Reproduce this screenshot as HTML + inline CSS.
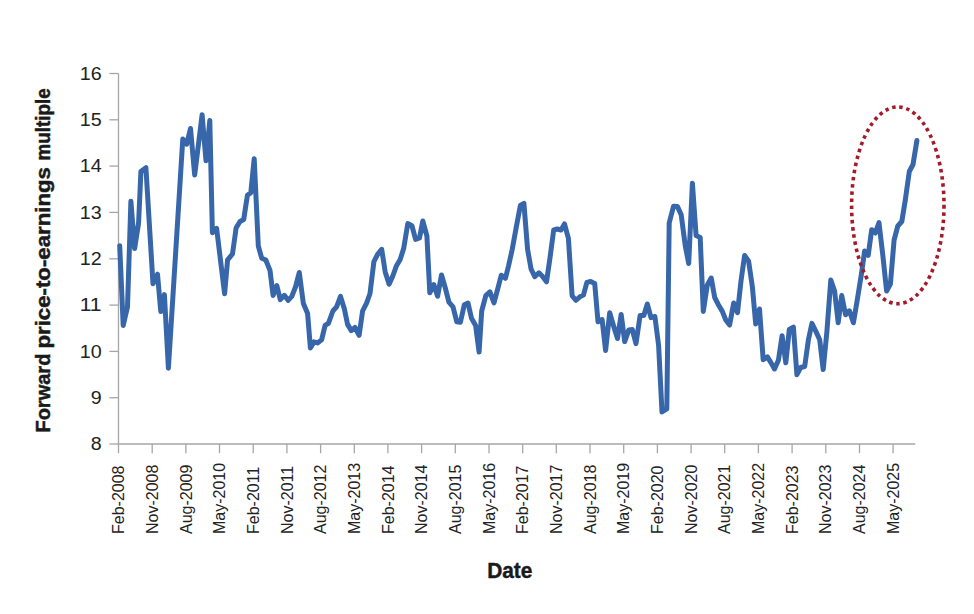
<!DOCTYPE html>
<html lang="en">
<head>
<meta charset="utf-8">
<title>Forward price-to-earnings multiple</title>
<style>
html,body{margin:0;padding:0;background:#fff;}
body{width:974px;height:614px;overflow:hidden;}
svg{display:block;}
text{font-family:"Liberation Sans",sans-serif;}
.tick{font-size:18px;fill:#222;}
.xl{font-size:16px;fill:#222;}
.ttl{font-weight:bold;fill:#1a1a1a;}
</style>
</head>
<body>
<svg width="974" height="614" viewBox="0 0 974 614">
<rect width="974" height="614" fill="#fff"/>

<g stroke="#a6a6a6" stroke-width="1.3" fill="none">
<line x1="118.5" y1="73.5" x2="118.5" y2="444.0"/>
<line x1="117.9" y1="444.0" x2="915.2" y2="444.0"/>
<line x1="109.4" y1="444.0" x2="118.5" y2="444.0"/>
<line x1="109.4" y1="397.7" x2="118.5" y2="397.7"/>
<line x1="109.4" y1="351.4" x2="118.5" y2="351.4"/>
<line x1="109.4" y1="305.1" x2="118.5" y2="305.1"/>
<line x1="109.4" y1="258.8" x2="118.5" y2="258.8"/>
<line x1="109.4" y1="212.4" x2="118.5" y2="212.4"/>
<line x1="109.4" y1="166.1" x2="118.5" y2="166.1"/>
<line x1="109.4" y1="119.8" x2="118.5" y2="119.8"/>
<line x1="109.4" y1="73.5" x2="118.5" y2="73.5"/>
<line x1="118.5" y1="444.0" x2="118.5" y2="453.2"/>
<line x1="152.2" y1="444.0" x2="152.2" y2="453.2"/>
<line x1="185.9" y1="444.0" x2="185.9" y2="453.2"/>
<line x1="219.5" y1="444.0" x2="219.5" y2="453.2"/>
<line x1="253.2" y1="444.0" x2="253.2" y2="453.2"/>
<line x1="286.9" y1="444.0" x2="286.9" y2="453.2"/>
<line x1="320.6" y1="444.0" x2="320.6" y2="453.2"/>
<line x1="354.3" y1="444.0" x2="354.3" y2="453.2"/>
<line x1="387.9" y1="444.0" x2="387.9" y2="453.2"/>
<line x1="421.6" y1="444.0" x2="421.6" y2="453.2"/>
<line x1="455.3" y1="444.0" x2="455.3" y2="453.2"/>
<line x1="489.0" y1="444.0" x2="489.0" y2="453.2"/>
<line x1="522.7" y1="444.0" x2="522.7" y2="453.2"/>
<line x1="556.3" y1="444.0" x2="556.3" y2="453.2"/>
<line x1="590.0" y1="444.0" x2="590.0" y2="453.2"/>
<line x1="623.7" y1="444.0" x2="623.7" y2="453.2"/>
<line x1="657.4" y1="444.0" x2="657.4" y2="453.2"/>
<line x1="691.1" y1="444.0" x2="691.1" y2="453.2"/>
<line x1="724.7" y1="444.0" x2="724.7" y2="453.2"/>
<line x1="758.4" y1="444.0" x2="758.4" y2="453.2"/>
<line x1="792.1" y1="444.0" x2="792.1" y2="453.2"/>
<line x1="825.8" y1="444.0" x2="825.8" y2="453.2"/>
<line x1="859.5" y1="444.0" x2="859.5" y2="453.2"/>
<line x1="893.1" y1="444.0" x2="893.1" y2="453.2"/>
</g>
<text class="tick" x="101.6" y="450.3" text-anchor="end" textLength="10.9" lengthAdjust="spacingAndGlyphs">8</text>
<text class="tick" x="101.6" y="404.0" text-anchor="end" textLength="10.9" lengthAdjust="spacingAndGlyphs">9</text>
<text class="tick" x="101.6" y="357.7" text-anchor="end" textLength="21.9" lengthAdjust="spacingAndGlyphs">10</text>
<text class="tick" x="101.6" y="311.4" text-anchor="end" textLength="21.9" lengthAdjust="spacingAndGlyphs">11</text>
<text class="tick" x="101.6" y="265.1" text-anchor="end" textLength="21.9" lengthAdjust="spacingAndGlyphs">12</text>
<text class="tick" x="101.6" y="218.8" text-anchor="end" textLength="21.9" lengthAdjust="spacingAndGlyphs">13</text>
<text class="tick" x="101.6" y="172.4" text-anchor="end" textLength="21.9" lengthAdjust="spacingAndGlyphs">14</text>
<text class="tick" x="101.6" y="126.1" text-anchor="end" textLength="21.9" lengthAdjust="spacingAndGlyphs">15</text>
<text class="tick" x="101.6" y="79.8" text-anchor="end" textLength="21.9" lengthAdjust="spacingAndGlyphs">16</text>
<text class="xl" transform="translate(124.1,534) rotate(-90)">Feb-2008</text>
<text class="xl" transform="translate(157.8,534) rotate(-90)">Nov-2008</text>
<text class="xl" transform="translate(191.5,534) rotate(-90)">Aug-2009</text>
<text class="xl" transform="translate(225.1,534) rotate(-90)">May-2010</text>
<text class="xl" transform="translate(258.8,534) rotate(-90)">Feb-2011</text>
<text class="xl" transform="translate(292.5,534) rotate(-90)">Nov-2011</text>
<text class="xl" transform="translate(326.2,534) rotate(-90)">Aug-2012</text>
<text class="xl" transform="translate(359.9,534) rotate(-90)">May-2013</text>
<text class="xl" transform="translate(393.5,534) rotate(-90)">Feb-2014</text>
<text class="xl" transform="translate(427.2,534) rotate(-90)">Nov-2014</text>
<text class="xl" transform="translate(460.9,534) rotate(-90)">Aug-2015</text>
<text class="xl" transform="translate(494.6,534) rotate(-90)">May-2016</text>
<text class="xl" transform="translate(528.3,534) rotate(-90)">Feb-2017</text>
<text class="xl" transform="translate(561.9,534) rotate(-90)">Nov-2017</text>
<text class="xl" transform="translate(595.6,534) rotate(-90)">Aug-2018</text>
<text class="xl" transform="translate(629.3,534) rotate(-90)">May-2019</text>
<text class="xl" transform="translate(663.0,534) rotate(-90)">Feb-2020</text>
<text class="xl" transform="translate(696.7,534) rotate(-90)">Nov-2020</text>
<text class="xl" transform="translate(730.3,534) rotate(-90)">Aug-2021</text>
<text class="xl" transform="translate(764.0,534) rotate(-90)">May-2022</text>
<text class="xl" transform="translate(797.7,534) rotate(-90)">Feb-2023</text>
<text class="xl" transform="translate(831.4,534) rotate(-90)">Nov-2023</text>
<text class="xl" transform="translate(865.1,534) rotate(-90)">Aug-2024</text>
<text class="xl" transform="translate(898.7,534) rotate(-90)">May-2025</text>
<g class="ttl" font-size="19.5" stroke="#1a1a1a" stroke-width="0.45" transform="translate(50,0) rotate(-90)"><text x="-432.6" y="0" textLength="79" lengthAdjust="spacingAndGlyphs">Forward</text><text x="-348.6" y="0" textLength="181.5" lengthAdjust="spacingAndGlyphs">price-to-earnings</text><text x="-160.5" y="0" textLength="72.3" lengthAdjust="spacingAndGlyphs">multiple</text></g>
<text class="ttl" font-size="22" stroke="#1a1a1a" stroke-width="0.45" x="487.2" y="578.2" textLength="45.2" lengthAdjust="spacingAndGlyphs">Date</text>
<polyline fill="none" stroke="#3767aa" stroke-width="5" stroke-linejoin="round" stroke-linecap="round" points="119.7,245.7 123.2,325.4 127.5,307.0 130.9,201.2 134.6,248.5 138.6,223.0 140.9,171.5 145.9,167.6 153.0,283.8 157.5,274.2 160.8,311.5 164.4,294.6 168.4,368.2 182.8,138.9 186.7,144.2 190.5,128.5 194.7,175.0 202.1,114.7 206.0,160.8 209.8,120.4 212.4,232.8 216.6,228.3 224.6,293.8 227.6,259.8 232.5,254.0 236.1,228.0 240.0,221.5 243.7,219.5 247.4,195.3 250.8,192.8 254.2,158.7 258.3,246.0 261.7,258.2 265.8,260.0 270.0,270.4 273.1,295.5 276.8,285.5 280.3,299.6 284.4,295.3 288.1,300.4 291.8,296.4 295.5,287.0 299.3,272.5 303.3,303.3 307.6,313.5 310.4,348.0 314.0,341.9 317.5,342.9 321.6,339.8 325.1,325.4 328.4,323.3 332.9,311.0 336.6,306.9 340.5,296.4 344.4,308.9 347.6,324.4 351.3,330.6 355.0,327.5 359.1,335.3 362.6,311.0 366.7,302.8 370.0,293.5 373.9,261.6 377.6,254.4 381.7,249.3 385.2,271.9 389.1,284.3 392.8,276.0 396.5,265.7 400.2,259.5 403.7,248.3 407.8,223.6 411.9,225.7 415.6,239.4 419.5,238.0 422.8,221.0 426.9,236.0 429.8,292.8 433.9,284.7 437.6,296.3 441.5,275.0 445.4,288.3 448.9,302.2 453.0,306.9 456.8,321.8 460.4,322.3 464.3,304.8 468.0,303.1 471.5,318.2 475.6,325.4 479.1,352.1 481.7,311.0 485.8,295.6 489.9,291.8 494.0,302.8 497.8,288.6 501.3,275.2 505.4,278.3 508.5,266.0 512.2,249.5 516.3,227.0 520.4,205.4 523.9,203.3 527.6,249.5 531.1,269.1 534.8,276.7 538.9,272.8 542.4,276.2 546.5,281.8 550.0,257.8 553.7,230.0 557.4,229.0 561.0,230.0 564.5,223.9 568.4,238.3 572.1,295.7 575.8,300.3 579.9,296.8 583.4,295.1 586.9,282.4 590.6,281.4 594.7,283.4 598.0,321.7 602.1,319.6 605.6,350.4 609.7,312.8 613.8,326.8 617.5,338.5 621.2,314.5 624.7,341.6 628.8,329.9 632.3,329.5 636.0,343.6 640.1,315.5 643.8,315.5 647.3,304.0 651.0,317.6 654.9,316.5 658.6,345.3 662.0,412.0 666.8,409.0 669.2,223.0 673.5,206.3 677.5,206.6 681.2,214.8 685.3,246.0 688.7,263.5 692.4,183.2 696.1,235.6 700.2,237.6 703.3,311.5 707.3,285.0 711.2,278.0 714.7,297.5 718.1,304.2 722.2,311.1 725.8,320.0 729.6,325.0 733.7,303.0 737.5,312.6 741.0,281.0 744.6,255.5 748.6,261.2 752.4,287.0 755.7,324.0 759.5,309.0 763.2,359.7 767.4,356.9 770.8,362.4 774.5,369.0 778.4,360.3 782.1,335.7 785.8,362.8 789.3,329.5 793.4,327.1 796.9,374.7 800.6,367.5 804.7,366.5 808.4,339.8 811.9,323.4 816.0,331.6 819.7,339.8 823.2,369.6 826.9,331.6 830.8,280.0 834.6,291.0 838.2,322.8 841.7,295.6 845.6,314.8 849.4,310.8 853.4,322.8 857.1,300.8 861.6,273.0 864.6,251.0 868.2,255.4 871.7,229.7 875.3,233.0 879.0,222.7 882.9,256.0 886.6,291.0 890.4,284.0 894.1,240.0 897.8,226.0 901.8,221.5 905.3,200.0 909.3,171.5 913.0,164.5 916.9,140.5"/>
<ellipse cx="897.8" cy="205.3" rx="46.2" ry="98.4" fill="none" stroke="#a51a28" stroke-width="3.6" stroke-dasharray="3.5 3.7"/>
</svg>
</body>
</html>
